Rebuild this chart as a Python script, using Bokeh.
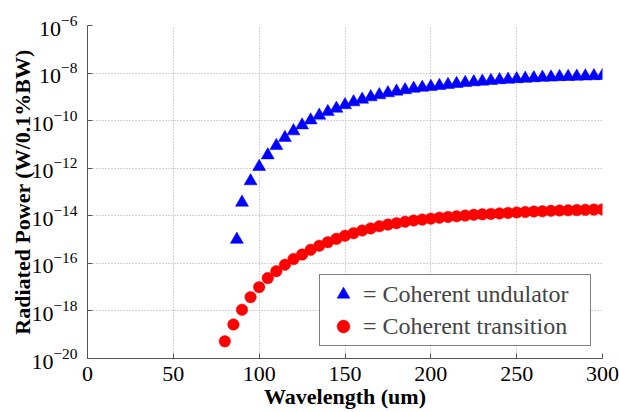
from bokeh.plotting import figure
from bokeh.models import Range1d, FixedTicker, LogTickFormatter, Legend, LegendItem, ColumnDataSource
from bokeh.embed import file_html
from bokeh.resources import INLINE

# ---- data ----
wavelength_undulator = [87, 90, 95, 100, 105, 110, 115, 120, 125, 130, 135, 140, 145, 150,
                        155, 160, 165, 170, 175, 180, 185, 190, 195, 200, 205, 210, 215, 220,
                        225, 230, 235, 240, 245, 250, 255, 260, 265, 270, 275, 280, 285, 290,
                        295, 300]
power_undulator = [1.0e-15, 3.63e-14, 2.88e-13, 1.15e-12, 3.55e-12, 8.71e-12, 1.91e-11, 3.63e-11,
                   6.46e-11, 1.05e-10, 1.66e-10, 2.34e-10, 3.24e-10, 4.57e-10, 6.03e-10, 7.76e-10,
                   9.77e-10, 1.20e-9, 1.45e-9, 1.70e-9, 1.95e-9, 2.24e-9, 2.45e-9, 2.69e-9,
                   2.95e-9, 3.24e-9, 3.55e-9, 3.89e-9, 4.17e-9, 4.47e-9, 4.79e-9, 5.13e-9,
                   5.37e-9, 5.62e-9, 5.89e-9, 6.17e-9, 6.46e-9, 6.61e-9, 6.92e-9, 7.08e-9,
                   7.24e-9, 7.41e-9, 7.59e-9, 7.76e-9]

wavelength_transition = [80, 85, 90, 95, 100, 105, 110, 115, 120, 125, 130, 135, 140, 145, 150,
                         155, 160, 165, 170, 175, 180, 185, 190, 195, 200, 205, 210, 215, 220,
                         225, 230, 235, 240, 245, 250, 255, 260, 265, 270, 275, 280, 285, 290,
                         295, 300]
power_transition = [5.25e-20, 2.69e-19, 1.12e-18, 3.80e-18, 1.00e-17, 2.40e-17, 4.68e-17, 8.71e-17,
                    1.51e-16, 2.34e-16, 3.72e-16, 5.50e-16, 7.76e-16, 1.07e-15, 1.45e-15, 1.86e-15,
                    2.40e-15, 2.95e-15, 3.63e-15, 4.27e-15, 4.90e-15, 5.62e-15, 6.31e-15, 6.92e-15,
                    7.59e-15, 8.32e-15, 8.91e-15, 9.55e-15, 1.02e-14, 1.10e-14, 1.15e-14, 1.20e-14,
                    1.26e-14, 1.32e-14, 1.38e-14, 1.45e-14, 1.51e-14, 1.55e-14, 1.62e-14, 1.66e-14,
                    1.70e-14, 1.74e-14, 1.78e-14, 1.82e-14, 1.86e-14]

x_ticks = [0, 50, 100, 150, 200, 250, 300]
y_ticks = [1e-20, 1e-18, 1e-16, 1e-14, 1e-12, 1e-10, 1e-8, 1e-6]

label_undulator = "= Coherent undulator"
label_transition = "= Coherent transition"
x_label = "Wavelength (um)"
y_label = "Radiated Power (W/0.1%BW)"

FONT = "'Liberation Serif', 'Times New Roman', serif"

p = figure(width=619, height=412, y_axis_type="log",
           x_range=Range1d(0, 300), y_range=Range1d(1e-20, 1e-6),
           output_backend="svg", toolbar_location=None,
           min_border_left=87, min_border_right=17, min_border_top=25, min_border_bottom=54)
p.outline_line_color = None
p.background_fill_color = "white"
p.border_fill_color = "white"

src_u = ColumnDataSource(dict(x=wavelength_undulator, y=power_undulator))
src_t = ColumnDataSource(dict(x=wavelength_transition, y=power_transition))

r_t = p.scatter("x", "y", source=src_t, marker="circle", size=11.5,
                fill_color="#ff0000", line_color="#ff0000", line_width=0.5)
r_u = p.scatter("x", "y", source=src_u, marker="triangle", size=13,
                fill_color="#0000ff", line_color="#0000ff", line_width=0.5)

# axes
p.xaxis.ticker = FixedTicker(ticks=x_ticks)
p.yaxis.ticker = FixedTicker(ticks=y_ticks)
p.yaxis.formatter = LogTickFormatter()
for ax in (p.xaxis, p.yaxis):
    ax.axis_line_color = "#555555"
    ax.axis_line_width = 1
    ax.major_tick_line_color = "#555555"
    ax.major_tick_in = 5
    ax.major_tick_out = 0
    ax.minor_tick_line_color = None
    ax.major_label_text_font = FONT
    ax.major_label_text_font_size = "22px"
    ax.major_label_text_color = "black"
    ax.axis_label_text_font = FONT
    ax.axis_label_text_font_size = "22px"
    ax.axis_label_text_font_style = "bold"
    ax.axis_label_text_color = "black"

p.xaxis.axis_label = x_label
p.yaxis.axis_label = y_label
p.xaxis.major_label_standoff = 8
p.xaxis.axis_label_standoff = 0
p.yaxis.major_label_standoff = 10
p.yaxis.axis_label_standoff = -7

# grid
for g in (p.xgrid, p.ygrid):
    g.grid_line_color = "#a8a8a8"
    g.grid_line_dash = "1 2"
    g.grid_line_width = 1
p.ygrid.minor_grid_line_color = None

legend = Legend(items=[LegendItem(label=label_undulator, renderers=[r_u]),
                       LegendItem(label=label_transition, renderers=[r_t])],
                location=(232, 12), margin=0, padding=3, spacing=0,
                glyph_width=40, glyph_height=32, label_standoff=0, label_width=224,
                label_text_font=FONT, label_text_font_size="24px",
                border_line_color="black", border_line_width=1.5,
                background_fill_color="white", background_fill_alpha=1.0)
p.add_layout(legend)

open("out.html", "w").write(file_html(p, INLINE))
